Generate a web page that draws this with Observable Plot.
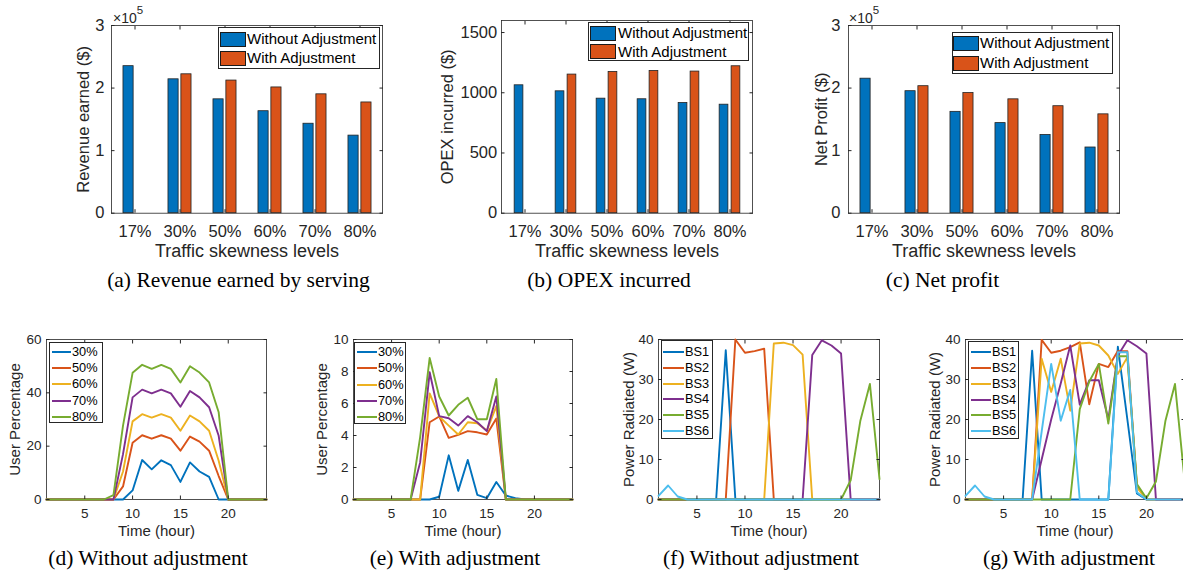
<!DOCTYPE html>
<html>
<head>
<meta charset="utf-8">
<script src="https://cdn.jsdelivr.net/npm/d3@7"></script>
<script src="https://cdn.jsdelivr.net/npm/@observablehq/plot@0.6"></script>
<style>
html, body { margin:0; padding:0; background:#fff; overflow:hidden; }
#page { position:relative; width:1183px; height:574px; overflow:hidden; font-family:"Liberation Sans", Arial, Helvetica, sans-serif; color:#262626; background:#fff; }
.wrap { position:absolute; }
.wrap svg { overflow: visible; }
.cap { position:absolute; font-family:"Liberation Serif","Times New Roman",serif; font-size:21.5px; line-height:1; color:#000; white-space:nowrap; transform:translateX(-50%); }
.box { position:absolute; border:1px solid #262626; background:#fff; box-sizing:border-box; }
.sw { position:absolute; border:1px solid #1a1a1a; box-sizing:border-box; }
.lt { position:absolute; white-space:nowrap; color:#000; }
.ln { position:absolute; height:0; border-top-style:solid; border-top-width:2px; }
.exp { position:absolute; font-size:14px; line-height:14px; color:#262626; white-space:nowrap; }
.exp sup { font-size:11.5px; vertical-align:0; position:relative; top:-9px; }
</style>
</head>
<body>
<div id="page"></div>
<script>
// ---------------- data ----------------
const skewLevels = ["17%", "30%", "50%", "60%", "70%", "80%"];
const seriesNames = ["Without Adjustment", "With Adjustment"];

const revenueWithout = [2.35e5, 2.14e5, 1.82e5, 1.63e5, 1.43e5, 1.24e5];
const revenueWith    = [0, 2.22e5, 2.12e5, 2.01e5, 1.90e5, 1.77e5];
const opexWithout    = [1062, 1012, 951, 946, 915, 901];
const opexWith       = [0, 1151, 1173, 1181, 1176, 1220];
const profitWithout  = [2.15e5, 1.95e5, 1.62e5, 1.44e5, 1.25e5, 1.05e5];
const profitWith     = [0, 2.03e5, 1.92e5, 1.82e5, 1.71e5, 1.58e5];

const yTicksMoney = [0, 1e5, 2e5, 3e5];
const yTicksOpex = [0, 500, 1000, 1500];

const hours = [1,2,3,4,5,6,7,8,9,10,11,12,13,14,15,16,17,18,19,20,21,22,23,24];
const hourTicks = [5, 10, 15, 20];

const skewSeries = ["30%", "50%", "60%", "70%", "80%"];
// (d) user percentage without adjustment
const userNoAdj30 = [0,0,0,0,0,0,0,0,0,3.4,14.8,11.3,14.7,12.9,6.6,13.9,10.5,8.5,0,0,0,0,0,0];
const userNoAdj50 = [0,0,0,0,0,0,0,0,4.9,21.3,24.1,22.8,24.1,22.8,18.3,23.6,21.7,18.3,8.8,0,0,0,0,0];
const userNoAdj60 = [0,0,0,0,0,0,0,0,10.5,29.3,32.0,30.7,32.0,30.7,25.8,31.5,29.3,25.8,14.5,0,0,0,0,0];
const userNoAdj70 = [0,0,0,0,0,0,0,0,17.0,38.3,41.2,39.8,41.2,39.8,34.8,40.7,38.3,34.6,23.9,0,0,0,0,0];
const userNoAdj80 = [0,0,0,0,0,0,0,1.6,27.7,47.5,50.5,49.0,50.5,49.0,43.9,50.0,47.6,43.9,32.7,0,0,0,0,0];
// (e) user percentage with adjustment
const userAdj30 = [0,0,0,0,0,0,0,0,0,0.17,2.76,0.54,2.47,0.29,0.08,1.09,0.25,0.08,0,0,0,0,0,0];
const userAdj50 = [0,0,0,0,0,0,0,0,4.83,5.19,3.85,4.04,4.27,4.2,4.06,5.06,0,0,0,0,0,0,0,0];
const userAdj60 = [0,0,0,0,0,0,0,0,6.63,5.19,4.62,4.06,4.83,4.77,4.31,5.84,0,0,0,0,0,0,0,0];
const userAdj70 = [0,0,0,0,0,0,0,2.32,7.95,5.21,5.08,4.62,5.21,4.83,4.27,6.44,0,0,0,0,0,0,0,0];
const userAdj80 = [0,0,0,0,0,0,0,3.9,8.85,6.44,5.25,5.92,6.36,5.02,5.02,7.53,0,0,0,0,0,0,0,0];

const bsSeries = ["BS1", "BS2", "BS3", "BS4", "BS5", "BS6"];
// (f) power radiated without adjustment
const powNoAdjBS1 = [0,0,0,0,0,0,0,37.3,0,0,0,0,0,0,0,0,0,0,0,0,0,0,0,0];
const powNoAdjBS2 = [0,0,0,0,0,0,0,0,40.0,36.7,37.1,37.7,0,0,0,0,0,0,0,0,0,0,0,0];
const powNoAdjBS3 = [0,0,0,0,0,0,0,0,0,0,0,0,39.0,39.2,38.6,36.2,0,0,0,0,0,0,0,0];
const powNoAdjBS4 = [0,0,0,0,0,0,0,0,0,0,0,0,0,0,0,0,36.1,39.8,38.5,36.5,0,0,0,0];
const powNoAdjBS5 = [0,0,0,0,0,0,0,0,0,0,0,0,0,0,0,0,0,0,0,0,4.8,19.6,28.9,5.1];
const powNoAdjBS6 = [0.9,3.5,0.75,0,0,0,0,0,0,0,0,0,0,0,0,0,0,0,0,0,0,0,0,0];
// (g) power radiated with adjustment
const powAdjBS1 = [0,0,0,0,0,0,0,37.2,0,0,0,0,0,0,0,0,38.2,20.0,1.5,0,0,0,0,0];
const powAdjBS2 = [0,0,0,0,0,0,0,0,39.9,36.7,37.2,38.1,39.3,23.8,33.9,33.1,37.1,37.1,3.5,0,0,0,0,0];
const powAdjBS3 = [0,0,0,0,0,0,0,0,35.2,26.9,35.2,22.2,39.0,39.2,38.5,36.0,31.4,35.6,3.0,0,0,0,0,0];
const powAdjBS4 = [0,0,0,0,0,0,0,0,10.0,20.0,29.0,38.5,23.7,29.8,29.8,20.0,36.0,39.8,38.3,36.5,0,0,0,0];
const powAdjBS5 = [0,0,0,0,0,0,0,0,0,0,0,0,22.6,29.5,33.9,19.0,35.8,35.8,3.9,0.3,4.5,19.7,28.9,5.0];
const powAdjBS6 = [0.9,3.5,0.75,0,0,0,0,0,17.0,33.9,19.7,27.4,0,0,0,0,36.8,36.8,1.8,0,0,0,0,0];

// ---------------- styling ----------------
const BLUE = "#0072BD", ORANGE = "#D95319";
const lineColors = ["#0072BD", "#D95319", "#EDB120", "#7E2F8E", "#77AC30", "#4DBEEE"];
const AX = "#262626";
const baseStyle = {fontFamily: "Liberation Sans, Arial, Helvetica, sans-serif", fontSize: "14px", background: "transparent", color: AX, overflow: "visible"};
const page = document.getElementById("page");

function place(el, left, top, width) {
  const w = document.createElement("div");
  w.className = "wrap";
  w.style.left = left + "px";
  w.style.top = top + "px";
  w.style.width = width + "px";
  w.appendChild(el);
  page.appendChild(w);
}
function div(cls, css, html) {
  const d = document.createElement("div");
  d.className = cls;
  Object.assign(d.style, css);
  if (html !== undefined) d.innerHTML = html;
  page.appendChild(d);
  return d;
}

function barPanel(cfg) {
  const bw = (cfg.width - cfg.mL - cfg.mR) / skewLevels.length;
  const rowsA = skewLevels.map((c, i) => ({level: c, value: cfg.without[i]}));
  const rowsB = skewLevels.map((c, i) => ({level: c, value: cfg.withAdj[i]}));
  const edge = {stroke: "#222", strokeWidth: 0.8};
  const chart = Plot.plot({
    width: cfg.width, height: cfg.height,
    marginLeft: cfg.mL, marginRight: cfg.mR, marginTop: cfg.mT, marginBottom: cfg.mB,
    style: baseStyle,
    x: {type: "band", domain: skewLevels, padding: 0},
    y: {domain: cfg.yDomain},
    marks: [
      Plot.frame({stroke: AX, strokeWidth: 0.8}),
      Plot.barY(rowsA, {x: "level", y: "value", fill: BLUE, insetLeft: 0.2429 * bw, insetRight: 0.5286 * bw, ...edge}),
      Plot.barY(rowsB, {x: "level", y: "value", fill: ORANGE, insetLeft: 0.5286 * bw, insetRight: 0.2429 * bw, ...edge}),
      Plot.axisX({anchor: "bottom", tickSize: -3.5, tickPadding: 15.1, fontSize: 16.5, label: null, stroke: AX}),
      Plot.axisX({anchor: "top", tickSize: -3.5, fill: "none", label: null, stroke: AX}),
      Plot.axisY({anchor: "left", ticks: cfg.yTicks, tickFormat: cfg.fmt, tickSize: -3.5, tickPadding: cfg.yPad, fontSize: 16.5, label: null, stroke: AX}),
      Plot.axisY({anchor: "right", ticks: cfg.yTicks, tickSize: -3.5, fill: "none", label: null, stroke: AX}),
      Plot.text([cfg.ylabel], {text: d => d, frameAnchor: "left", textAnchor: "middle", lineAnchor: "middle", dx: cfg.ylx, rotate: -90, fontSize: 16.5, fill: AX}),
      Plot.text(["Traffic skewness levels"], {text: d => d, frameAnchor: "bottom", textAnchor: "middle", lineAnchor: "middle", dy: 38.3, fontSize: 18, fill: AX})
    ]
  });
  place(chart, cfg.left, cfg.top, cfg.width);
}

function linePanel(cfg) {
  const rows = [];
  cfg.series.forEach((name, si) => cfg.values[si].forEach((v, i) => rows.push({hour: hours[i], value: v, series: name})));
  const chart = Plot.plot({
    width: cfg.width, height: cfg.height,
    marginLeft: cfg.mL, marginRight: cfg.mR, marginTop: cfg.mT, marginBottom: cfg.mB,
    style: baseStyle,
    x: {domain: [1, 24]},
    y: {domain: cfg.yDomain},
    color: {domain: cfg.series, range: lineColors.slice(0, cfg.series.length)},
    marks: [
      Plot.frame({stroke: AX, strokeWidth: 0.8}),
      Plot.lineY(rows, {x: "hour", y: "value", z: "series", stroke: "series", strokeWidth: 1.9}),
      Plot.axisX({anchor: "bottom", ticks: hourTicks, tickSize: -3.5, tickPadding: 12.5, fontSize: 13.5, label: null, stroke: AX}),
      Plot.axisX({anchor: "top", ticks: hourTicks, tickSize: -3.5, fill: "none", label: null, stroke: AX}),
      Plot.axisY({anchor: "left", ticks: cfg.yTicks, tickSize: -3.5, tickPadding: 8.5, fontSize: 13.5, label: null, stroke: AX}),
      Plot.axisY({anchor: "right", ticks: cfg.yTicks, tickSize: -3.5, fill: "none", label: null, stroke: AX}),
      Plot.text([cfg.ylabel], {text: d => d, frameAnchor: "left", textAnchor: "middle", lineAnchor: "middle", dx: cfg.ylx, rotate: -90, fontSize: 15, fill: AX}),
      Plot.text(["Time (hour)"], {text: d => d, frameAnchor: "bottom", textAnchor: "middle", lineAnchor: "middle", dy: 32, fontSize: 15, fill: AX})
    ]
  });
  place(chart, cfg.left, cfg.top, cfg.width);
}

// ---------------- top row ----------------
const fmt1e5 = d => String(d / 1e5);
barPanel({left: 0, top: 0, width: 395, height: 265, mL: 111, mR: 13, mT: 25, mB: 52.3,
  without: revenueWithout, withAdj: revenueWith, yDomain: [0, 3e5], yTicks: yTicksMoney, fmt: fmt1e5, yPad: 10.5,
  ylabel: "Revenue earned ($)", ylx: -28});
barPanel({left: 390, top: 0, width: 395, height: 265, mL: 111, mR: 33, mT: 20, mB: 52.3,
  without: opexWithout, withAdj: opexWith, yDomain: [0, 1600], yTicks: yTicksOpex, fmt: d => String(d), yPad: 7.8,
  ylabel: "OPEX incurred ($)", ylx: -54});
barPanel({left: 780, top: 0, width: 395, height: 265, mL: 68, mR: 56, mT: 25, mB: 52.3,
  without: profitWithout, withAdj: profitWith, yDomain: [0, 3e5], yTicks: yTicksMoney, fmt: fmt1e5, yPad: 11.5,
  ylabel: "Net Profit ($)", ylx: -27});

// ---------------- bottom row ----------------
linePanel({left: 0, top: 320, width: 295, height: 225, mL: 46, mR: 29, mT: 19, mB: 46,
  series: skewSeries, values: [userNoAdj30, userNoAdj50, userNoAdj60, userNoAdj70, userNoAdj80],
  yDomain: [0, 60], yTicks: [0, 20, 40, 60], ylabel: "User Percentage", ylx: -31});
linePanel({left: 295, top: 320, width: 295, height: 225, mL: 58, mR: 18, mT: 19, mB: 46,
  series: skewSeries, values: [userAdj30, userAdj50, userAdj60, userAdj70, userAdj80],
  yDomain: [0, 10], yTicks: [0, 2, 4, 6, 8, 10], ylabel: "User Percentage", ylx: -31});
linePanel({left: 590, top: 320, width: 295, height: 225, mL: 68, mR: 6, mT: 19, mB: 46,
  series: bsSeries, values: [powNoAdjBS1, powNoAdjBS2, powNoAdjBS3, powNoAdjBS4, powNoAdjBS5, powNoAdjBS6],
  yDomain: [0, 40], yTicks: [0, 10, 20, 30, 40], ylabel: "Power Radiated (W)", ylx: -29});
linePanel({left: 885, top: 320, width: 310, height: 225, mL: 80, mR: 11, mT: 19, mB: 46,
  series: bsSeries, values: [powAdjBS1, powAdjBS2, powAdjBS3, powAdjBS4, powAdjBS5, powAdjBS6],
  yDomain: [0, 40], yTicks: [0, 10, 20, 30, 40], ylabel: "Power Radiated (W)", ylx: -30});

// ---------------- exponent labels ----------------
div("exp", {left: "113px", top: "11px"}, "×10<sup>5</sup>");
div("exp", {left: "849px", top: "11px"}, "×10<sup>5</sup>");

// ---------------- legends ----------------
function barLegend(bx, by, bwid, bh, swx, sww, swh, swys, tx, fs) {
  div("box", {left: bx + "px", top: by + "px", width: bwid + "px", height: bh + "px"});
  seriesNames.forEach((name, i) => {
    div("sw", {left: swx + "px", top: swys[i] + "px", width: sww + "px", height: swh + "px", background: i === 0 ? BLUE : ORANGE});
    div("lt", {left: tx + "px", top: (swys[i] + swh / 2 - 10) + "px", lineHeight: "20px", fontSize: fs + "px"}, name);
  });
}
barLegend(218, 27, 162, 41.5, 220, 26, 15, [31.7, 50.7], 247, 15);
barLegend(588, 22.3, 161, 39, 590, 26, 15.3, [25.7, 44], 618, 15);
barLegend(952, 32, 160.5, 41.5, 953, 25.5, 14.7, [36, 56], 980, 15);

function lineLegend(names, bx, by, bwid, bh, lx1, lx2, cy0, step, tx, fs) {
  div("box", {left: bx + "px", top: by + "px", width: bwid + "px", height: bh + "px"});
  names.forEach((name, i) => {
    const cy = cy0 + i * step;
    div("ln", {left: lx1 + "px", top: (cy - 1) + "px", width: (lx2 - lx1) + "px", borderTopColor: lineColors[i]});
    div("lt", {left: tx + "px", top: (cy - 9) + "px", lineHeight: "18px", fontSize: fs + "px"}, name);
  });
}
lineLegend(skewSeries, 49, 341.7, 53.5, 81.5, 52, 71, 352, 16.2, 72, 12.8);
lineLegend(skewSeries, 354.3, 342, 52, 82, 357, 377, 352.3, 16.1, 378, 12.8);
lineLegend(bsSeries, 661, 340, 52, 99, 663, 684, 352, 15.8, 685, 12.8);
lineLegend(bsSeries, 968.3, 340.7, 51, 98, 970.7, 991, 352.3, 15.75, 992, 12.8);

// ---------------- captions ----------------
const captions = [
  ["(a) Revenue earned by serving", 238.5, 270],
  ["(b) OPEX incurred", 609, 270],
  ["(c) Net profit", 942.5, 270],
  ["(d) Without adjustment", 148, 548],
  ["(e) With adjustment", 455, 548],
  ["(f) Without adjustment", 761, 548],
  ["(g) With adjustment", 1069, 548]
];
captions.forEach(([t, cx, top]) => div("cap", {left: cx + "px", top: top + "px"}, t));
</script>
</body>
</html>
